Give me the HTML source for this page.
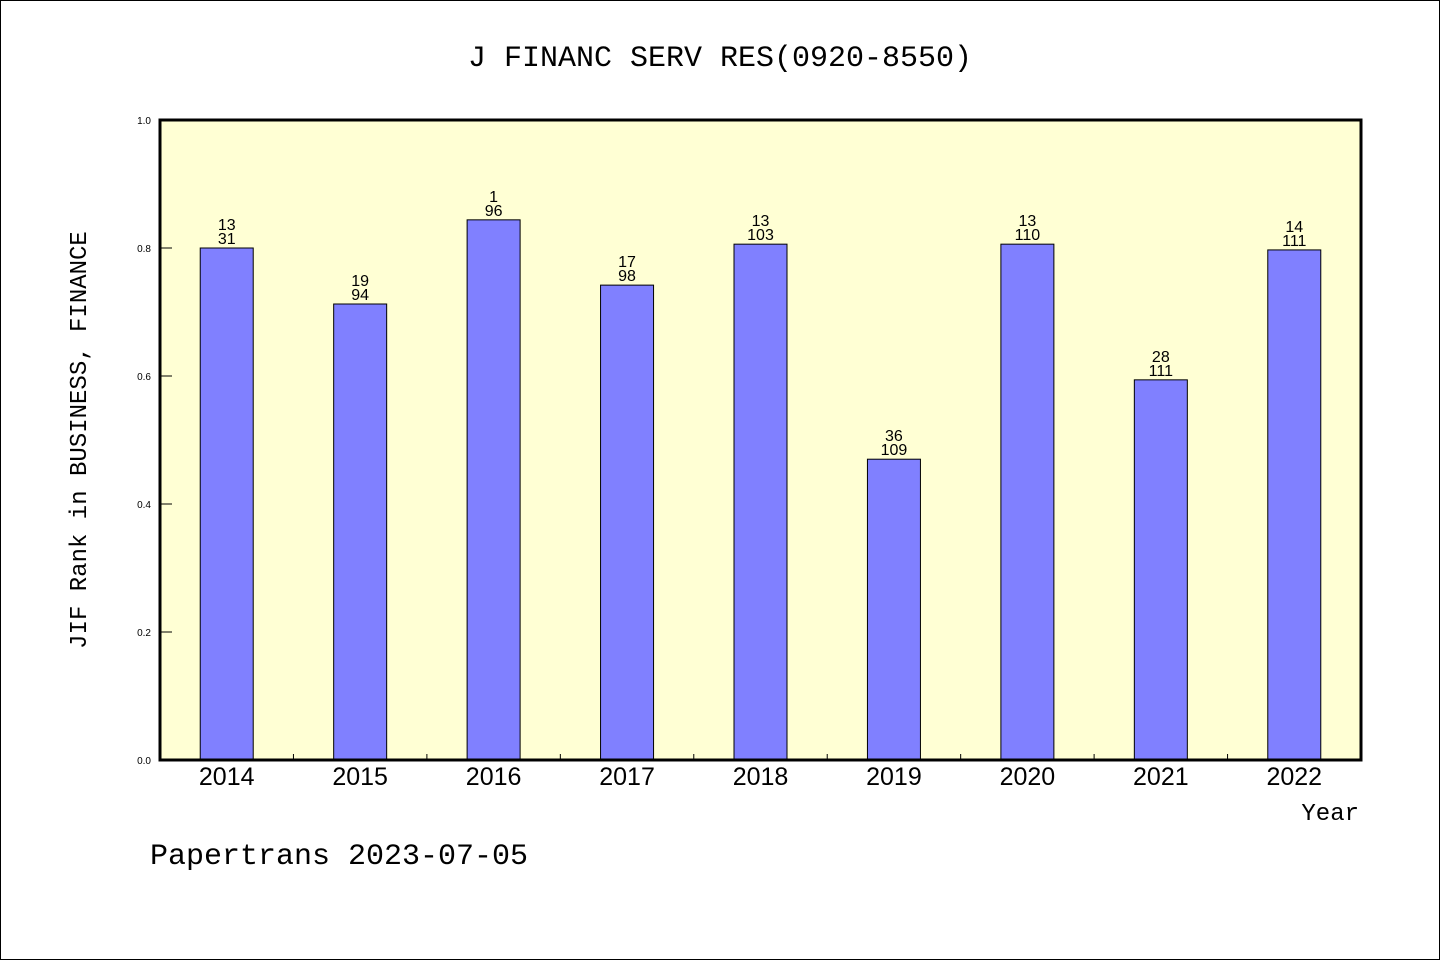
<!DOCTYPE html>
<html><head><meta charset="utf-8"><style>
html,body{margin:0;padding:0;background:#fff}
svg{display:block;font-family:"Liberation Mono","DejaVu Sans Mono",monospace}
</style></head><body>
<svg id="chart" width="1440" height="960" viewBox="0 0 1440 960" xmlns="http://www.w3.org/2000/svg">
<rect x="0.5" y="0.5" width="1439" height="959" fill="#fff" stroke="#000"/>
<text x="720" y="66" text-anchor="middle" font-size="30">J FINANC SERV RES(0920-8550)</text>
<rect x="160" y="120" width="1201" height="640" fill="#ffffd4"/>
<g id="ticks"></g>
<g id="bars"></g>
<rect x="160" y="120" width="1201" height="640" fill="none" stroke="#000" stroke-width="3"/>
<text transform="translate(86,440) rotate(-90)" text-anchor="middle" font-size="24">JIF Rank in BUSINESS, FINANCE</text>
<text x="1359" y="820" text-anchor="end" font-size="24">Year</text>
<text x="150" y="864" font-size="30">Papertrans 2023-07-05</text>
</svg>
<script>
const categories=["2014","2015","2016","2017","2018","2019","2020","2021","2022"];
const values=[0.800,0.7125,0.844,0.742,0.806,0.470,0.806,0.594,0.797];
const ranks=["13","19","1","17","13","36","13","28","14"];
const totals=["31","94","96","98","103","109","110","111","111"];
const yTicks=[0,0.2,0.4,0.6,0.8,1.0];
const yTickLabels=["0.0","0.2","0.4","0.6","0.8","1.0"];
const NS="http://www.w3.org/2000/svg";
const X0=160,W=1201,Y0=760,H=640;
const bw=W/categories.length;
const y=v=>Y0-v*H;
const xc=i=>X0+bw*(i+0.5);
function mk(t,a,p,txt){const e=document.createElementNS(NS,t);for(const k in a)e.setAttribute(k,a[k]);if(txt!==undefined)e.textContent=txt;p.appendChild(e);return e;}
const tg=document.getElementById('ticks'),bg=document.getElementById('bars');
yTicks.forEach((v,i)=>{
  const l=mk('line',{x1:X0,x2:X0+12,y1:y(v),y2:y(v),stroke:'#000','stroke-width':1},tg);
  
  
  const t=mk('text',{x:151,y:y(v)+4,'text-anchor':'end','font-size':10,'font-family':'Liberation Sans, sans-serif'},tg,yTickLabels[i]);
  
  
});
for(let i=1;i<categories.length;i++){
  const l=mk('line',{x1:X0+bw*i,x2:X0+bw*i,y1:Y0,y2:Y0-6,stroke:'#000','stroke-width':1},tg);
  
  
}
categories.forEach((c,i)=>{
  const cx=xc(i),top=y(values[i]);
  const r=mk('rect',{x:cx-26.5,y:top,width:53,height:Y0-top,fill:'#8080ff',stroke:'#000','stroke-width':1},bg);
  
  
  const t1=mk('text',{x:cx,y:top-18,'text-anchor':'middle','font-size':16,'font-family':'Liberation Sans, sans-serif'},bg,ranks[i]);
  
  
  const t2=mk('text',{x:cx,y:top-4,'text-anchor':'middle','font-size':16,'font-family':'Liberation Sans, sans-serif'},bg,totals[i]);
  
  
  const xl=mk('text',{x:cx,y:785,'text-anchor':'middle','font-size':25,'font-family':'Liberation Sans, sans-serif'},bg,c);
  
  
});
</script>
</body></html>
